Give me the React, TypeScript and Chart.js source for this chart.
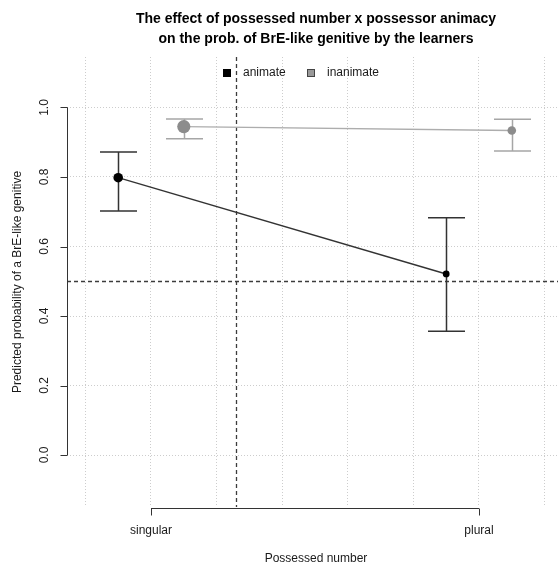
import React, { useEffect, useRef } from "react";
import { Chart, registerables } from "chart.js";

Chart.register(...registerables);

// ---- data ----
const categories = ["singular", "plural"];
const categoryPositions = [1, 2];
const legendLabels = ["animate", "inanimate"];

const animateFit = [0.798, 0.521];
const animateLower = [0.702, 0.356];
const animateUpper = [0.872, 0.683];

const inanimateFit = [0.945, 0.934];
const inanimateLower = [0.91, 0.875];
const inanimateUpper = [0.967, 0.966];

const yTicks = [0, 0.2, 0.4, 0.6, 0.8, 1.0];
const yTickLabels = ["0.0", "0.2", "0.4", "0.6", "0.8", "1.0"];
const xGridTicks = [0.8, 1.0, 1.2, 1.4, 1.6, 1.8, 2.0, 2.2];

const refY = 0.5;
const refX = 1.258;

const titleLines = [
  "The effect of possessed number x possessor animacy",
  "on the prob. of BrE-like genitive by the learners",
];
const xTitle = "Possessed number";
const yTitle = "Predicted probability of a BrE-like genitive";

// ---- style ----
const DODGE = 0.1;
const FONT = "'Liberation Sans', Arial, Helvetica, sans-serif";
const TEXT = "#1a1a1a";
const AXIS = "#333333";
const animateColor = "#000000";
const animateLine = "#333333";
const inanimateColor = "#8c8c8c";
const inanimateLine = "#adadad";
const inanimateBar = "#a6a6a6";
const CAP = 18.5;

const xMin = 0.7439;
const xMax = 2.2409;
const yMin = -0.1496;
const yMax = 1.1453;

const rPlot = {
  id: "rPlot",
  beforeDatasetsDraw(chart: any) {
    const { ctx, chartArea } = chart;
    const xs = chart.scales.x;
    const ys = chart.scales.y;
    ctx.save();
    // reference lines
    ctx.strokeStyle = "#3c3c3c";
    ctx.lineWidth = 1.3;
    ctx.setLineDash([4, 3]);
    const yr = Math.round(ys.getPixelForValue(refY)) + 0.5;
    ctx.beginPath();
    ctx.moveTo(chartArea.left, yr);
    ctx.lineTo(chartArea.right, yr);
    ctx.stroke();
    const xr = Math.round(xs.getPixelForValue(refX)) + 0.5;
    ctx.beginPath();
    ctx.moveTo(xr, chartArea.top);
    ctx.lineTo(xr, chartArea.bottom);
    ctx.stroke();
    ctx.setLineDash([]);

    // error bars
    const series = [
      { lo: animateLower, hi: animateUpper, off: -DODGE, color: AXIS },
      { lo: inanimateLower, hi: inanimateUpper, off: DODGE, color: inanimateBar },
    ];
    series.forEach((s) => {
      ctx.strokeStyle = s.color;
      ctx.lineWidth = 1.5;
      categoryPositions.forEach((p, i) => {
        const x = Math.round(xs.getPixelForValue(p + s.off)) + 0.5;
        const y1 = ys.getPixelForValue(s.hi[i]);
        const y2 = ys.getPixelForValue(s.lo[i]);
        ctx.beginPath();
        ctx.moveTo(x, y1);
        ctx.lineTo(x, y2);
        ctx.moveTo(x - CAP, y1);
        ctx.lineTo(x + CAP, y1);
        ctx.moveTo(x - CAP, y2);
        ctx.lineTo(x + CAP, y2);
        ctx.stroke();
      });
    });
    ctx.restore();
  },
  afterDraw(chart: any) {
    const { ctx, chartArea, width } = chart;
    const xs = chart.scales.x;
    const ys = chart.scales.y;
    ctx.save();
    ctx.strokeStyle = AXIS;
    ctx.lineWidth = 1;
    ctx.fillStyle = TEXT;

    // y axis
    const ax = chartArea.left + 0.5;
    ctx.beginPath();
    ctx.moveTo(ax, ys.getPixelForValue(yTicks[0]));
    ctx.lineTo(ax, ys.getPixelForValue(yTicks[yTicks.length - 1]));
    yTicks.forEach((v) => {
      const y = Math.round(ys.getPixelForValue(v)) + 0.5;
      ctx.moveTo(ax, y);
      ctx.lineTo(ax - 7, y);
    });
    ctx.stroke();
    ctx.font = `12px ${FONT}`;
    ctx.textAlign = "center";
    ctx.textBaseline = "middle";
    yTicks.forEach((v, i) => {
      const y = ys.getPixelForValue(v);
      ctx.save();
      ctx.translate(chartArea.left - 22, y);
      ctx.rotate(-Math.PI / 2);
      ctx.fillText(yTickLabels[i], 0, 0);
      ctx.restore();
    });

    // x axis
    const ay = chartArea.bottom + 1.5;
    ctx.beginPath();
    ctx.moveTo(xs.getPixelForValue(categoryPositions[0]), ay);
    ctx.lineTo(xs.getPixelForValue(categoryPositions[categoryPositions.length - 1]), ay);
    categoryPositions.forEach((p) => {
      const x = Math.round(xs.getPixelForValue(p)) + 0.5;
      ctx.moveTo(x, ay);
      ctx.lineTo(x, ay + 7);
    });
    ctx.stroke();
    ctx.textBaseline = "alphabetic";
    categoryPositions.forEach((p, i) => {
      ctx.fillText(categories[i], xs.getPixelForValue(p), chartArea.bottom + 27);
    });

    // axis titles
    const centerX = (chartArea.left + width + 7) / 2;
    ctx.fillText(xTitle, centerX, chartArea.bottom + 55);
    ctx.save();
    ctx.translate(18, (chartArea.top + chartArea.bottom) / 2);
    ctx.rotate(-Math.PI / 2);
    ctx.textBaseline = "middle";
    ctx.fillText(yTitle, 0, 0);
    ctx.restore();

    // title
    ctx.font = `bold 14px ${FONT}`;
    ctx.fillStyle = "#000";
    ctx.fillText(titleLines[0], centerX, 23);
    ctx.fillText(titleLines[1], centerX, 42.5);

    // legend
    ctx.font = `12px ${FONT}`;
    ctx.textAlign = "left";
    ctx.textBaseline = "middle";
    const ly = chartArea.top + 16;
    ctx.lineWidth = 1;
    ctx.fillStyle = animateColor;
    ctx.fillRect(223, ly - 4, 8, 8);
    ctx.fillStyle = "#999";
    ctx.strokeStyle = "#444";
    ctx.fillRect(307.5, ly - 3.5, 7, 7);
    ctx.strokeRect(307.5, ly - 3.5, 7, 7);
    ctx.fillStyle = TEXT;
    ctx.fillText(legendLabels[0], 243, ly);
    ctx.fillText(legendLabels[1], 327, ly);
    ctx.restore();
  },
};

export default function App() {
  const ref = useRef<HTMLCanvasElement | null>(null);
  useEffect(() => {
    if (!ref.current) return;
    const gridCommon = {
      color: "#cdcdcd",
      lineWidth: 1,
      drawTicks: false,
    };
    const chart = new Chart(ref.current, {
      type: "scatter",
      data: {
        datasets: [
          {
            label: legendLabels[0],
            data: categoryPositions.map((p, i) => ({ x: p - DODGE, y: animateFit[i] })),
            showLine: true,
            borderColor: animateLine,
            borderWidth: 1.4,
            backgroundColor: animateColor,
            pointBackgroundColor: animateColor,
            pointBorderColor: animateColor,
            pointRadius: [4.8, 3.4],
            pointBorderWidth: 0,
          },
          {
            label: legendLabels[1],
            data: categoryPositions.map((p, i) => ({ x: p + DODGE, y: inanimateFit[i] })),
            showLine: true,
            borderColor: inanimateLine,
            borderWidth: 1.4,
            backgroundColor: inanimateColor,
            pointBackgroundColor: inanimateColor,
            pointBorderColor: inanimateColor,
            pointRadius: [6.6, 4.3],
            pointBorderWidth: 0,
          },
        ],
      },
      options: {
        animation: false,
        responsive: false,
        maintainAspectRatio: false,
        layout: { autoPadding: false, padding: { left: 67, top: 57, right: 0, bottom: 57 } },
        plugins: {
          legend: { display: false },
          title: { display: false },
          tooltip: { enabled: false },
        },
        scales: {
          x: {
            type: "linear",
            min: xMin,
            max: xMax,
            afterBuildTicks: (scale: any) => {
              scale.ticks = xGridTicks.map((v) => ({ value: v }));
            },
            ticks: { display: false },
            grid: gridCommon,
            border: { display: false, dash: [1, 2] },
          },
          y: {
            type: "linear",
            min: yMin,
            max: yMax,
            afterBuildTicks: (scale: any) => {
              scale.ticks = yTicks.map((v) => ({ value: v }));
            },
            ticks: { display: false },
            grid: gridCommon,
            border: { display: false, dash: [1, 2] },
          },
        },
      },
      plugins: [rPlot],
    });
    return () => chart.destroy();
  }, []);
  return (
    <div style={{ position: "absolute", left: 0, top: 0, width: 558, height: 564, background: "#fff" }}>
      <canvas ref={ref} width={558} height={564} style={{ display: "block" }} />
    </div>
  );
}
